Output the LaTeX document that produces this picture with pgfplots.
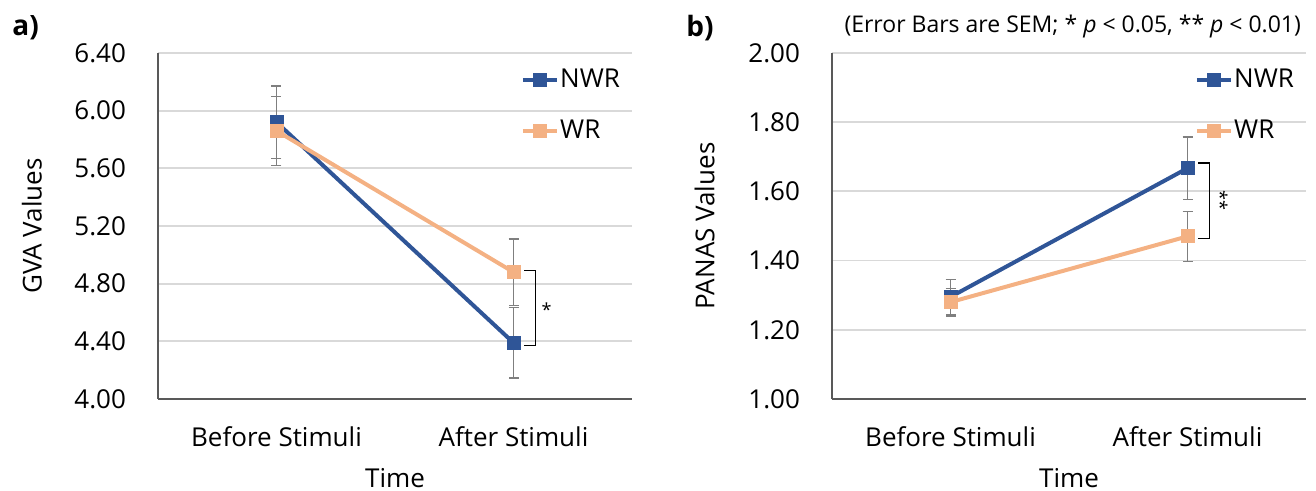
\documentclass[border=0pt]{standalone}
\usepackage{fontspec}
\setmainfont{Open Sans}
\usepackage{pgfplots}
\pgfplotsset{compat=1.18}

\definecolor{nwr}{HTML}{2F5597}
\definecolor{wr}{HTML}{F4B183}
\definecolor{errgray}{HTML}{7F7F7F}
\definecolor{gridgray}{HTML}{D9D9D9}
\definecolor{axgray}{HTML}{595959}

\pgfplotsset{
  panel/.style={
    scale only axis, width=237pt, height=173pt,
    xmin=-0.5, xmax=1.5, xtick={0,1},
    xticklabels={Before Stimuli, After Stimuli},
    axis x line*=bottom, axis y line*=left,
    axis line style={axgray, line width=0.8pt, -},
    major tick length=0pt,
    ymajorgrids, grid style={gridgray, line width=0.9pt},
    tick label style={font=\fontsize{13}{15}\selectfont},
    /pgf/number format/assume math mode=true,
    yticklabel style={/pgf/number format/.cd, fixed, fixed zerofill, precision=2,
      /tikz/.cd, xshift=-12.5pt},
    xticklabel style={anchor=center, yshift=-19pt},
    label style={font=\fontsize{13}{15}\selectfont},
    xlabel={Time},
    xlabel style={at={(axis description cs:0.5,-0.228)}, anchor=center},
    legend style={draw=none, fill=none, font=\fontsize{13}{15}\selectfont,
      at={(rel axis cs:0.752,0.97)}, anchor=north west, row sep=13.5pt,
      nodes={inner sep=0.6pt}},
    legend cell align=left,
    clip=false,
  },
  ser/.style={color=#1, line width=2pt, mark=square*, mark size=2.5pt,
    mark options={solid},
    error bars/.cd, y dir=both, y explicit,
    error bar style={errgray, line width=0.7pt},
    error mark options={rotate=90, errgray, mark size=2.5pt, line width=0.7pt}},
}

\begin{document}
\begin{tikzpicture}
% a) GVA
\begin{axis}[panel, ymin=4, ymax=6.4, ytick={4,4.4,...,6.41},
  ylabel={GVA Values},
  ylabel style={at={(axis description cs:-0.266,0.5)}, anchor=center}]
\addplot[ser=nwr] coordinates {(0,5.92) +- (0,0.25) (1,4.39) +- (0,0.245)};
\addplot[ser=wr] coordinates {(0,5.86) +- (0,0.24) (1,4.88) +- (0,0.23)};
\legend{NWR,WR}
\draw[black, line width=0.6pt] (axis cs:1.046,4.89) -- (axis cs:1.093,4.89)
  -- (axis cs:1.093,4.37) -- (axis cs:1.046,4.37);
\node[font=\fontsize{9}{10}\selectfont] at (axis cs:1.14,4.62) {*};
\node[font=\bfseries\fontsize{14}{16}\selectfont, anchor=west, inner sep=0pt]
  at (rel axis cs:0,1) [xshift=-73pt, yshift=12.5pt] {a)};
\end{axis}
% b) PANAS
\begin{axis}[panel, at={(337pt,0)}, ymin=1, ymax=2, ytick={1,1.2,...,2.01},
  ylabel={PANAS Values},
  ylabel style={at={(axis description cs:-0.269,0.5)}, anchor=center}]
\addplot[ser=nwr] coordinates {(0,1.295) +- (0,0.05) (1,1.667) +- (0,0.09)};
\addplot[ser=wr] coordinates {(0,1.28) +- (0,0.04) (1,1.47) +- (0,0.072)};
\legend{NWR,WR}
\draw[black, line width=0.6pt] (axis cs:1.046,1.682) -- (axis cs:1.093,1.682)
  -- (axis cs:1.093,1.465) -- (axis cs:1.046,1.465);
\node[font=\fontsize{9}{10}\selectfont, rotate=-90] at (axis cs:1.14,1.575) {**};
\node[font=\bfseries\fontsize{14}{16}\selectfont, anchor=west, inner sep=0pt]
  at (rel axis cs:0,1) [xshift=-73pt, yshift=12.5pt] {b)};
\node[font=\fontsize{11.5}{13}\selectfont, anchor=east]
  at (rel axis cs:1,1) [xshift=1pt, yshift=13pt]
  {(Error Bars are SEM; * \textit{p} < 0.05, ** \textit{p} < 0.01)};
\end{axis}
\pgfresetboundingbox
\path[use as bounding box] (-79pt,-46pt) rectangle (579pt,199.5pt);
\end{tikzpicture}
\end{document}
